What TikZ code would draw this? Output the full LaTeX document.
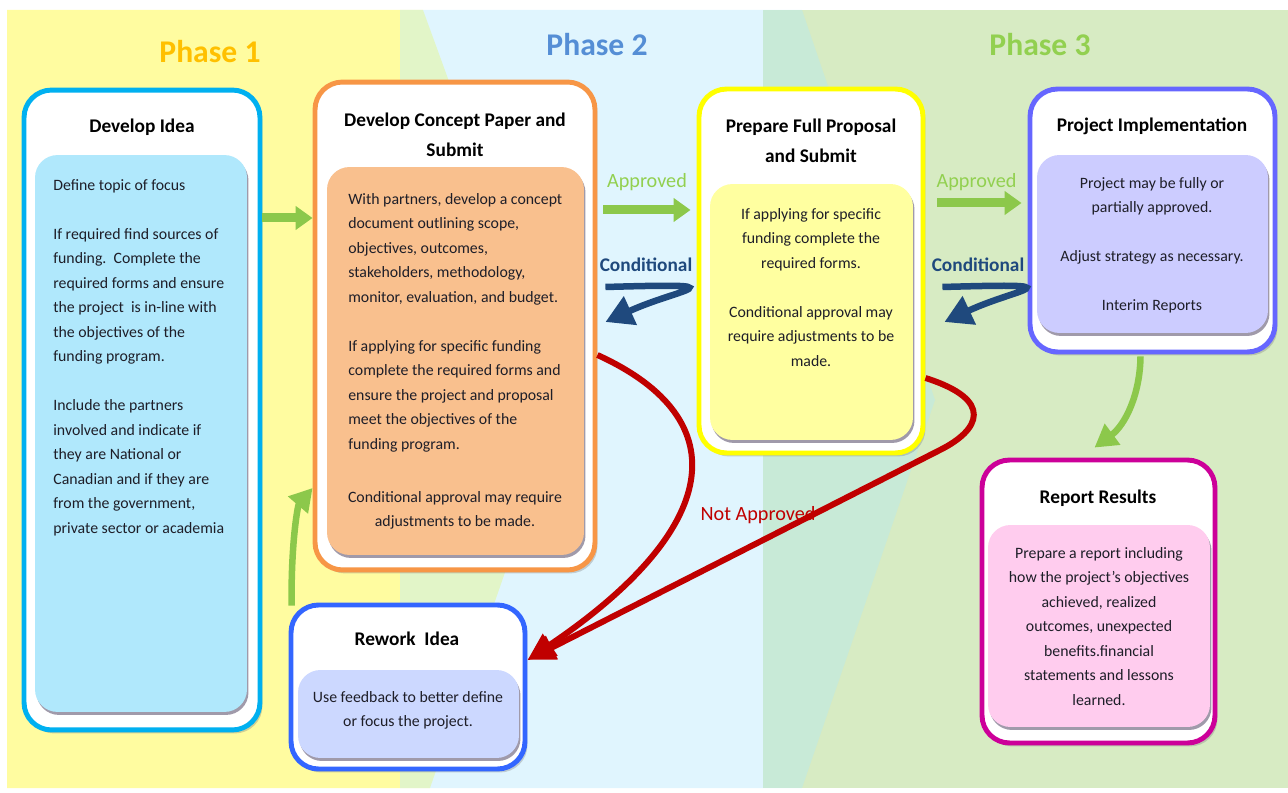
\documentclass[tikz,border=0pt]{standalone}
\usepackage{fontspec}
\setmainfont{Carlito}
\usepackage{xcolor}
\usepackage{tikz}
\usetikzlibrary{positioning, arrows.meta, shadows, calc}

\definecolor{bgyellow}{RGB}{255,252,160}
\definecolor{bgblue}{RGB}{224,245,254}
\definecolor{bggreen}{RGB}{215,235,195}
\definecolor{bgmixone}{RGB}{226,245,200}
\definecolor{bgmixtwo}{RGB}{200,234,215}
\definecolor{phaseonecol}{RGB}{255,192,0}
\definecolor{phasetwocol}{RGB}{85,142,213}
\definecolor{phasethreecol}{RGB}{146,208,80}
\definecolor{ideaborder}{RGB}{0,176,240}
\definecolor{ideafill}{RGB}{176,232,252}
\definecolor{conceptborder}{RGB}{247,150,70}
\definecolor{conceptfill}{RGB}{249,192,142}
\definecolor{proposalborder}{RGB}{255,255,0}
\definecolor{proposalfill}{RGB}{255,255,160}
\definecolor{implborder}{RGB}{102,102,255}
\definecolor{implfill}{RGB}{204,204,255}
\definecolor{reportborder}{RGB}{204,0,153}
\definecolor{reportfill}{RGB}{255,204,238}
\definecolor{reworkborder}{RGB}{51,102,255}
\definecolor{reworkfill}{RGB}{204,216,255}
\definecolor{arrowgreen}{RGB}{140,200,75}
\definecolor{conddark}{RGB}{31,73,125}
\definecolor{failred}{RGB}{192,0,0}
\definecolor{shadowgray}{RGB}{160,154,170}
\definecolor{bodytext}{RGB}{30,30,40}

\begin{document}
\begin{tikzpicture}[
    x=0.02cm, y=-0.02cm,
    outerbox/.style={draw=#1, line width=2.8pt, fill=white, rounded corners=0.55cm,
        drop shadow={shadow xshift=0.05cm, shadow yshift=-0.07cm, opacity=0.35}},
    innerbox/.style={fill=#1, rounded corners=0.45cm,
        drop shadow={shadow xshift=0.03cm, shadow yshift=-0.06cm, fill=shadowgray, opacity=1}},
    boxtitle/.style={font=\fontsize{11}{17}\selectfont\bfseries, align=center, text=black},
    boxtext/.style={font=\fontsize{9}{13.94}\selectfont, text=bodytext, inner sep=0pt},
    phasetitle/.style={text=#1, font=\fontsize{18}{22}\selectfont\bfseries},
    flowarrow/.style={draw=arrowgreen, line width=0.18cm, -{Triangle[length=0.34cm, width=0.46cm]}},
    bendarrow/.style={draw=arrowgreen, line width=0.13cm, -{Triangle[length=0.45cm, width=0.5cm]}},
    condarrow/.style={draw=conddark, line width=0.13cm, -{Triangle[length=0.55cm, width=0.6cm]}},
    failarrow/.style={draw=failred, line width=0.12cm, -{Triangle[length=0.55cm, width=0.5cm]}}
]
\useasboundingbox (0,0) rectangle (1288,793);

% phase backgrounds
\fill[bgyellow] (7,10) -- (423,10) -- (565,400) -- (430,788) -- (7,788) -- cycle;
\fill[bgblue] (400,10) -- (802,10) -- (935,400) -- (802,788) -- (400,788) -- cycle;
\fill[bggreen] (763,10) -- (1288,10) -- (1288,788) -- (763,788) -- cycle;
\begin{scope}
  \clip (7,10) -- (423,10) -- (565,400) -- (430,788) -- (7,788) -- cycle;
  \fill[bgmixone] (400,10) rectangle (802,788);
\end{scope}
\begin{scope}
  \clip (400,10) -- (802,10) -- (935,400) -- (802,788) -- (400,788) -- cycle;
  \fill[bgmixtwo] (763,10) rectangle (1288,788);
\end{scope}

\node[phasetitle=phaseonecol] (phaseone) at (210,52) {Phase 1};
\node[phasetitle=phasetwocol] (phasetwo) at (597,45) {Phase 2};
\node[phasetitle=phasethreecol] (phasethree) at (1040,45) {Phase 3};

% boxes
\node[outerbox=ideaborder, minimum width=4.72cm, minimum height=12.8cm] (idea) at (142,410) {};
\node[innerbox=ideafill, minimum width=4.24cm, minimum height=11.14cm] (ideain) at (141,433.5) {};
\node[boxtitle] (ideatitle) at (142,127) {Develop Idea};
\node[boxtext, anchor=north west, align=left] (ideatext) at (53,179) {Define topic of focus\\[13.94pt]
If required find sources of\\
funding.\ \ Complete the\\
required forms and ensure\\
the project\ \ is in-line with\\
the objectives of the\\
funding program.\\[13.94pt]
Include the partners\\
involved and indicate if\\
they are National or\\
Canadian and if they are\\
from the government,\\
private sector or academia};

\node[outerbox=conceptborder, minimum width=5.6cm, minimum height=9.76cm] (concept) at (455,326) {};
\node[innerbox=conceptfill, minimum width=5.14cm, minimum height=7.76cm] (conceptin) at (455.5,361) {};
\node[boxtitle] (concepttitle) at (455,135) {Develop Concept Paper and\\Submit};
\node[boxtext, anchor=north west, align=left] (concepttext) at (348,193) {With partners, develop a concept\\
document outlining scope,\\
objectives, outcomes,\\
stakeholders, methodology,\\
monitor, evaluation, and budget.\\[13.94pt]
If applying for specific funding\\
complete the required forms and\\
ensure the project and proposal\\
meet the objectives of the\\
funding program.};
\node[boxtext, anchor=north, align=center] (conceptnote) at (455,491) {Conditional approval may require\\
adjustments to be made.};

\node[outerbox=proposalborder, minimum width=4.48cm, minimum height=7.28cm] (proposal) at (811,271) {};
\node[innerbox=proposalfill, minimum width=4.06cm, minimum height=5.12cm] (proposalin) at (811.5,312) {};
\node[boxtitle] (proposaltitle) at (811,141) {Prepare Full Proposal\\and Submit};
\node[boxtext, anchor=north, align=center] (proposaltext) at (811,208) {If applying for specific\\
funding complete the\\
required forms.\\[13.94pt]
Conditional approval may\\
require adjustments to be\\
made.};

\node[outerbox=implborder, minimum width=4.9cm, minimum height=5.26cm] (impl) at (1152.5,220.5) {};
\node[innerbox=implfill, minimum width=4.62cm, minimum height=3.56cm] (implin) at (1152.5,244) {};
\node[boxtitle] (impltitle) at (1152,126) {Project Implementation};
\node[boxtext, anchor=north, align=center] (impltext) at (1152,177) {Project may be fully or\\
partially approved.\\[13.94pt]
Adjust strategy as necessary.\\[13.94pt]
Interim Reports};

\node[outerbox=reportborder, minimum width=4.66cm, minimum height=5.66cm] (report) at (1098.5,601.5) {};
\node[innerbox=reportfill, minimum width=4.44cm, minimum height=4.04cm] (reportin) at (1099,626) {};
\node[boxtitle] (reporttitle) at (1098,498) {Report Results};
\node[boxtext, anchor=north, align=center] (reporttext) at (1099,547) {Prepare a report including\\
how the project's objectives\\
achieved, realized\\
outcomes, unexpected\\
benefits.financial\\
statements and lessons\\
learned.};

\node[outerbox=reworkborder, minimum width=4.68cm, minimum height=3.28cm] (rework) at (408,687) {};
\node[innerbox=reworkfill, minimum width=4.42cm, minimum height=1.76cm] (reworkin) at (408.5,714) {};
\node[boxtitle] (reworktitle) at (407,639) {Rework\ \ Idea};
\node[boxtext, anchor=north, align=center] (reworktext) at (408,691) {Use feedback to better define\\
or focus the project.};

% connectors
\draw[flowarrow] (idea.east |- 0,218) -- (concept.west |- 0,218);
\draw[flowarrow, shorten <=0.12cm, shorten >=0.12cm] (concept.east |- 0,210) -- node[above=0.18cm, text=phasethreecol, font=\fontsize{11.5}{14}\selectfont]{Approved} (proposal.west |- 0,210);
\draw[flowarrow, shorten <=0.24cm, shorten >=0.12cm] (proposal.east |- 0,203) -- node[above=0.04cm, text=phasethreecol, font=\fontsize{11.5}{14}\selectfont]{Approved} (impl.west |- 0,203);

\node[text=conddark, font=\fontsize{11}{14}\selectfont\bfseries] (condone) at (646,265) {Conditional};
\node[text=conddark, font=\fontsize{11}{14}\selectfont\bfseries] (condtwo) at (978,265) {Conditional};
\draw[condarrow] ($(concept.east |- 0,287)+(8,0)$) .. controls (745,283) and (680,288) .. ($(concept.east |- 0,322)+(8,0)$);
\draw[condarrow] ($(proposal.east |- 0,287)+(17,0)$) .. controls (1082,283) and (1017,288) .. ($(proposal.east |- 0,322)+(19,0)$);

\draw[bendarrow] ($(rework.north west)+(3,3)$) .. controls (291,540) and (298,505) .. (concept.west |- 0,488);
\draw[bendarrow] ($(impl.south)+(-12,2)$) .. controls (1140,395) and (1125,425) .. ($(report.north)+(-4,-10)$);

\draw[failarrow] (concept.east |- 0,355) .. controls (740,420) and (720,530) .. (rework.east |- 0,660);
\draw[failarrow] (proposal.east |- 0,378) .. controls (995,400) and (980,430) .. (940,450) -- (rework.east |- 0,660);
\node[text=failred, font=\fontsize{11.5}{14}\selectfont] (notapproved) at (758,515) {Not Approved};
\end{tikzpicture}
\end{document}
